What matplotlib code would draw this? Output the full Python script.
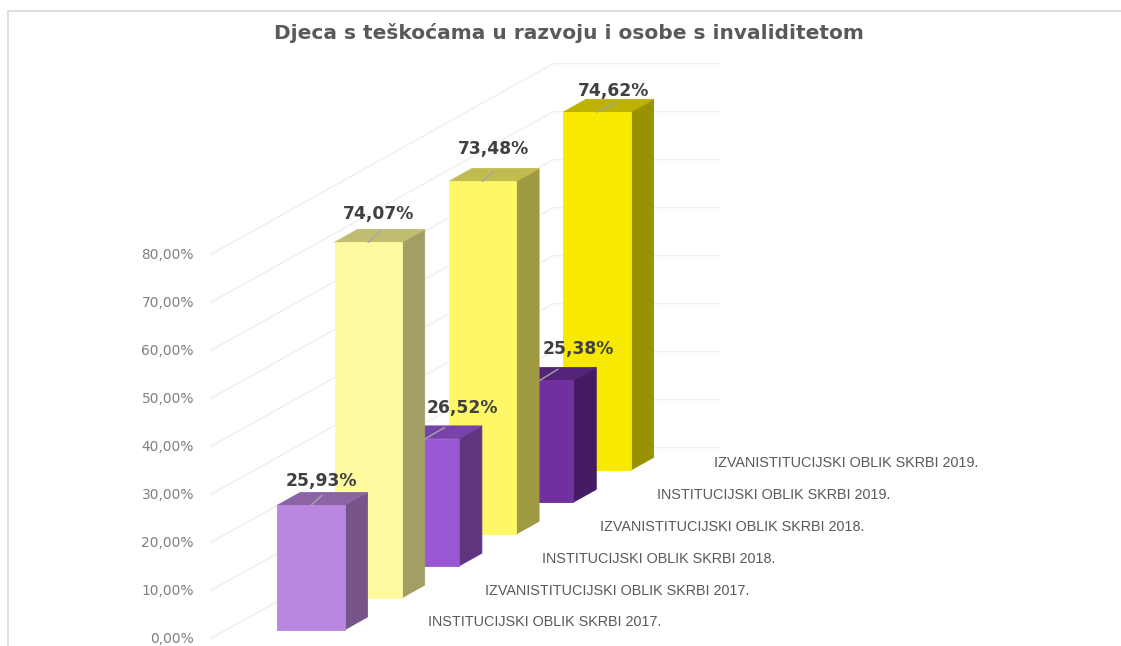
import matplotlib
matplotlib.use('Agg')
import matplotlib.pyplot as plt
from matplotlib.patches import Polygon

# data
series = ['INSTITUCIJSKI OBLIK SKRBI 2017.', 'IZVANISTITUCIJSKI OBLIK SKRBI 2017.',
          'INSTITUCIJSKI OBLIK SKRBI 2018.', 'IZVANISTITUCIJSKI OBLIK SKRBI 2018.',
          'INSTITUCIJSKI OBLIK SKRBI 2019.', 'IZVANISTITUCIJSKI OBLIK SKRBI 2019.']
values = [25.93, 74.07, 26.52, 73.48, 25.38, 74.62]
ticks = [0, 10, 20, 30, 40, 50, 60, 70, 80]

front_col = ['#B987DF', '#FFF9A0', '#9A57D3', '#FFF866', '#7030A0', '#F7E900']
side_col = ['#765389', '#A39F64', '#5F3580', '#A09A42', '#451C63', '#9A9100']
top_col = ['#8B64A6', '#C0BC70', '#7843A8', '#C1BB50', '#54247A', '#BDB200']

# value label offsets from the front top edge centre of the bar (pixels)
label_dx = [10, 10, 37, 11, 39, 17]
label_dy = [-24, -28, -31, -32, -31, -21]
leader_dx = [11, 13, 19, 11, 18, 19]
leader_dy = [-10, -12, -11, -10, -11, -9]

# oblique projection, everything in image pixels
ox, oy = 210, 639
slot_x, slot_y = 57.2, -31.9
floor_w = 167
per_pct = 4.8
bar_l, bar_r = 50.8, 118.0
bar_d0, bar_d1 = 0.29, 0.69


def proj(across, depth, val):
    return ox + across + depth * slot_x, oy + depth * slot_y - val * per_pct


fig = plt.figure(figsize=(11.21, 6.46), dpi=100)
ax = fig.add_axes([0, 0, 1, 1])
ax.set_xlim(0, 1121)
ax.set_ylim(646, 0)
ax.axis('off')

# chart frame
ax.plot([7.5, 7.5, 1121], [646, 10.5, 10.5], color='#D9D9D9', lw=1.2)

ax.text(569, 33, 'Djeca s teškoćama u razvoju i osobe s invaliditetom', ha='center', va='center',
        fontsize=14.5, fontweight='bold', color='#595959', family='DejaVu Sans')

# walls
for t in ticks:
    x0, y0 = proj(0, 0, t)
    x1, y1 = proj(0, 6, t)
    x2, y2 = proj(floor_w, 6, t)
    ax.plot([x0, x1, x2], [y0, y1, y2], color='#EFEFEF', lw=1, zorder=1)
    ax.text(194, y0, '%d,00%%' % t, ha='right', va='center', fontsize=9.9, color='#7F7F7F')

# bars back to front
for i in reversed(range(len(values))):
    v = values[i]
    d0, d1 = i + bar_d0, i + bar_d1
    z = 10 + (len(values) - i) * 2
    front = [proj(bar_l, d0, 0), proj(bar_r, d0, 0), proj(bar_r, d0, v), proj(bar_l, d0, v)]
    side = [proj(bar_r, d0, 0), proj(bar_r, d1, 0), proj(bar_r, d1, v), proj(bar_r, d0, v)]
    top = [proj(bar_l, d0, v), proj(bar_r, d0, v), proj(bar_r, d1, v), proj(bar_l, d1, v)]
    # own colour edge closes the seams between faces
    ax.add_patch(Polygon(side, fc=side_col[i], ec=side_col[i], lw=0.6, zorder=z))
    ax.add_patch(Polygon(top, fc=top_col[i], ec=top_col[i], lw=0.6, zorder=z))
    ax.add_patch(Polygon(front, fc=front_col[i], ec=front_col[i], lw=0.6, zorder=z))

    cx, cy = proj((bar_l + bar_r) / 2, d0, v)
    ax.plot([cx, cx + leader_dx[i]], [cy, cy + leader_dy[i]], color='#A6A6A6', lw=1, zorder=40)
    ax.text(cx + label_dx[i], cy + label_dy[i], ('%.2f' % v).replace('.', ',') + '%',
            ha='center', va='center', fontsize=12.3, fontweight='bold', color='#404040', zorder=50)

    # series name on the depth axis
    lx, ly = proj(floor_w + 51, i, 0)
    ax.text(lx, ly - 16.5, series[i], ha='left', va='center', fontsize=10.4, color='#595959',
            family='Liberation Sans', zorder=50)

fig.savefig('out.png', dpi=100)
